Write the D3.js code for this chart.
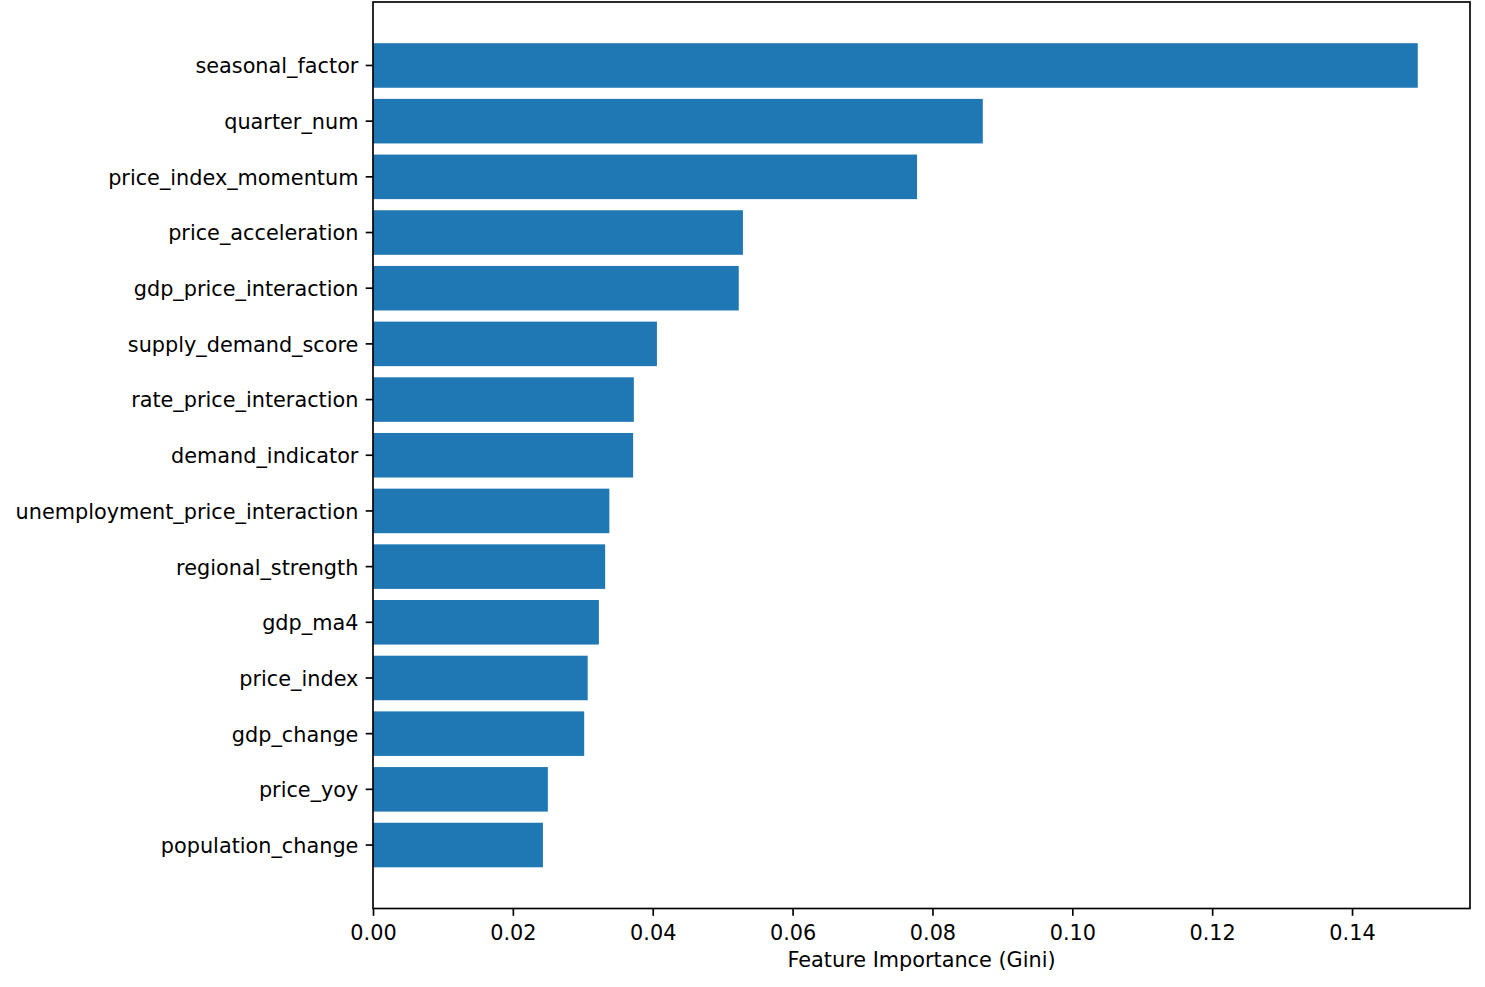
<!DOCTYPE html>
<html>
<head>
<meta charset="utf-8">
<script src="https://cdn.jsdelivr.net/npm/d3@7"></script>
<style>
  html, body { margin: 0; padding: 0; background: #fff; }
  svg { display: block; font-family: "DejaVu Sans", sans-serif; }
</style>
</head>
<body>
<svg id="chart" width="1485" height="987"></svg>
<script>
const features = [
  "seasonal_factor", "quarter_num", "price_index_momentum", "price_acceleration",
  "gdp_price_interaction", "supply_demand_score", "rate_price_interaction",
  "demand_indicator", "unemployment_price_interaction", "regional_strength",
  "gdp_ma4", "price_index", "gdp_change", "price_yoy", "population_change"
];
const importance = [
  0.1494, 0.0872, 0.0778, 0.0529, 0.0523, 0.0406, 0.0373,
  0.0372, 0.0338, 0.0332, 0.0323, 0.0307, 0.0302, 0.0250, 0.0243
];
const xTicks = [0, 0.02, 0.04, 0.06, 0.08, 0.10, 0.12, 0.14];
const xLabel = "Feature Importance (Gini)";

(function () {
const mLeft = 373, mRight = 1470, mTop = 2, mBottom = 908.5;
const fontSize = 20.8, lw = 1.67, tickLen = 7.3;
const svg = d3.select("#chart");

const xMax = d3.max(importance) * 1.05;
const x = d3.scaleLinear().domain([0, xMax]).range([mLeft, mRight]);
const y = d3.scaleBand().domain(features).range([mTop, mBottom])
  .paddingInner(0.2).paddingOuter(0.74);

svg.append("g").selectAll("rect")
  .data(features.map((f, i) => ({ f, v: importance[i] })))
  .join("rect")
  .attr("x", x(0))
  .attr("y", d => y(d.f))
  .attr("width", d => x(d.v) - x(0))
  .attr("height", y.bandwidth())
  .attr("fill", "#1f77b4");

// x axis
const xAxis = svg.append("g")
  .attr("transform", `translate(0,${mBottom})`)
  .call(d3.axisBottom(x).tickValues(xTicks).tickFormat(d3.format(".2f"))
    .tickSize(tickLen).tickPadding(9.4));
xAxis.select(".domain").remove();
xAxis.selectAll(".tick line").attr("stroke", "#000").attr("stroke-width", lw);
xAxis.selectAll(".tick text").attr("fill", "#000")
  .style("font-size", fontSize + "px").style("font-family", "DejaVu Sans");

// y axis
const yAxis = svg.append("g")
  .attr("transform", `translate(${mLeft},0)`)
  .call(d3.axisLeft(y).tickSize(tickLen).tickPadding(7.3));
yAxis.select(".domain").remove();
yAxis.selectAll(".tick line").attr("stroke", "#000").attr("stroke-width", lw);
yAxis.selectAll(".tick text").attr("fill", "#000").attr("dy", "0.38em")
  .style("font-size", fontSize + "px").style("font-family", "DejaVu Sans");

// spines
svg.append("rect")
  .attr("x", mLeft).attr("y", mTop)
  .attr("width", mRight - mLeft).attr("height", mBottom - mTop)
  .attr("fill", "none").attr("stroke", "#000").attr("stroke-width", lw);

// x label
svg.append("text")
  .attr("x", (mLeft + mRight) / 2).attr("y", 967)
  .attr("text-anchor", "middle")
  .style("font-size", fontSize + "px").style("font-family", "DejaVu Sans")
  .attr("fill", "#000")
  .text(xLabel);
})();
</script>
</body>
</html>
